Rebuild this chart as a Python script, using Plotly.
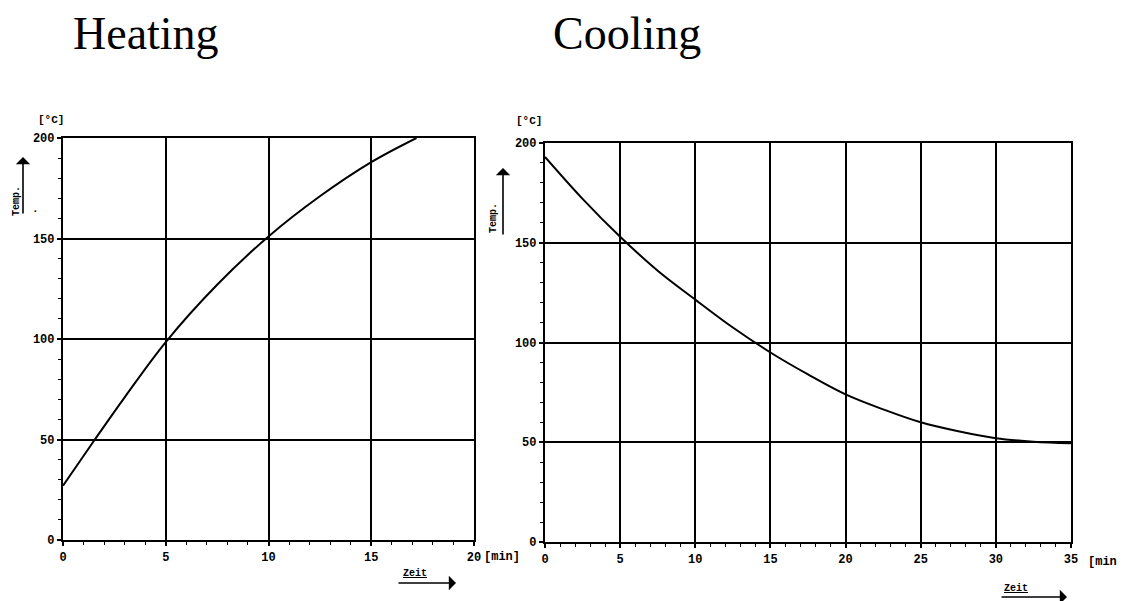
import plotly.graph_objects as go

# Heating data (time in min, temperature in °C)
heat_t = [0, 1.55, 3.0, 5.0, 7.5, 10.0, 12.5, 15.0, 17.2]
heat_T = [27, 50, 71, 98.5, 127, 151, 171, 188, 200]

# Cooling data
cool_t = [0, 2.5, 5, 7.5, 10, 12.5, 15, 17.5, 20, 22.5, 25, 27.5, 30, 32.5, 35]
cool_T = [193, 172, 153, 136, 121.5, 107.5, 95, 84, 74, 66.5, 60, 55.5, 52, 50.3, 49.5]

heat_xticks = [0, 5, 10, 15, 20]
cool_xticks = [0, 5, 10, 15, 20, 25, 30, 35]
yticks = [0, 50, 100, 150, 200]

MONO = "Liberation Mono"
SERIF = "Liberation Serif"
tickfont = dict(family=MONO, size=12, color="black", weight="bold")

fig = go.Figure()
fig.add_trace(go.Scatter(x=heat_t, y=heat_T, mode="lines", line=dict(color="black", width=2, shape="spline"),
                         xaxis="x", yaxis="y", showlegend=False))
fig.add_trace(go.Scatter(x=cool_t, y=cool_T, mode="lines", line=dict(color="black", width=2, shape="spline"),
                         xaxis="x2", yaxis="y2", showlegend=False))

def xax(domain, rng, ticks, anchor):
    return dict(domain=domain, range=rng, tickvals=ticks, ticktext=[str(v) for v in ticks],
                showgrid=True, gridcolor="black", gridwidth=1.6, showline=True, linecolor="black",
                linewidth=2.2, mirror=True, ticks="outside", ticklen=4, tickcolor="black", tickwidth=1.6,
                tickfont=tickfont, zeroline=False, anchor=anchor, fixedrange=True, automargin=False,
                minor=dict(dtick=1, ticks="outside", ticklen=3, tickcolor="black", tickwidth=1.2, showgrid=False))

def yax(domain, anchor):
    return dict(domain=domain, range=[0, 200], tickvals=yticks, ticktext=[str(v) for v in yticks],
                showgrid=True, gridcolor="black", gridwidth=1.6, showline=True, linecolor="black",
                linewidth=2.2, mirror=True, ticks="outside", ticklen=4, tickcolor="black", tickwidth=1.6,
                tickfont=tickfont, zeroline=False, anchor=anchor, fixedrange=True, automargin=False,
                minor=dict(dtick=10, ticks="outside", ticklen=3, tickcolor="black", tickwidth=1.2, showgrid=False))

# The page body has an 8px margin, so the figure is shrunk by that amount and
# screen-pixel positions are converted accordingly.
OFF = 8
W, H = 1133 - OFF, 601 - OFF
def px(x): return (x - OFF) / W
def py(y): return 1 - (y - OFF) / H

fig.update_layout(
    width=W, height=H, margin=dict(l=0, r=0, t=0, b=0, autoexpand=False),
    paper_bgcolor="white", plot_bgcolor="white",
    xaxis=xax([px(63), px(474)], [0, 20], heat_xticks, "y"),
    yaxis=yax([py(540), py(138)], "x"),
    xaxis2=xax([px(545), px(1071)], [0, 35], cool_xticks, "y2"),
    yaxis2=yax([py(542), py(143)], "x2"),
)

ann = []
# Titles
for txt, x in [("Heating", 71), ("Cooling", 551)]:
    ann.append(dict(text=txt, x=px(x), y=py(33), xref="paper", yref="paper", xanchor="left", yanchor="middle",
                    showarrow=False, font=dict(family=SERIF, size=46, color="black")))
# Units
for x, y in [(51, 120), (529, 121)]:
    ann.append(dict(text="[°C]", x=px(x), y=py(y), xref="paper", yref="paper", xanchor="center",
                    yanchor="middle", showarrow=False, font=dict(family=MONO, size=11, color="black", weight="bold")))
for x, y, t in [(482, 557, "[min]"), (1086, 562, "[min")]:
    ann.append(dict(text=t, x=px(x), y=py(y), xref="paper", yref="paper", xanchor="left",
                    yanchor="middle", showarrow=False, font=dict(family=MONO, size=12, color="black", weight="bold")))
# Temp labels
for x, y in [(16, 201), (493, 218)]:
    ann.append(dict(text="Temp.", x=px(x), y=py(y), xref="paper", yref="paper", xanchor="center",
                    yanchor="middle", textangle=-90, showarrow=False,
                    font=dict(family=MONO, size=10, color="black", weight="bold")))
ann.append(dict(text=".", x=px(35), y=py(209), xref="paper", yref="paper", xanchor="center", yanchor="middle",
                showarrow=False, font=dict(family=MONO, size=11, color="black", weight="bold")))
# Temp arrows (head at top)
for x, y0, y1 in [(23, 215, 157), (503, 236, 168)]:
    ann.append(dict(text="", x=px(x), y=py(y1), ax=0, ay=y0 - y1, xref="paper", yref="paper",
                    axref="pixel", ayref="pixel", showarrow=True, arrowhead=1, arrowsize=1.5, arrowwidth=1.6,
                    arrowcolor="black"))
# Zeit labels
for x, y in [(415, 573), (1016, 588)]:
    ann.append(dict(text="<u>Zeit</u>", x=px(x), y=py(y), xref="paper", yref="paper", xanchor="center",
                    yanchor="middle", showarrow=False, font=dict(family=MONO, size=10, color="black", weight="bold")))
for y, x0, x1 in [(583, 397, 456), (597, 1000, 1067)]:
    ann.append(dict(text="", x=px(x1), y=py(y), ax=x0 - x1, ay=0, xref="paper", yref="paper",
                    axref="pixel", ayref="pixel", showarrow=True, arrowhead=1, arrowsize=1.5, arrowwidth=1.6,
                    arrowcolor="black"))

fig.update_layout(annotations=ann)
fig.write_html("out.html")
